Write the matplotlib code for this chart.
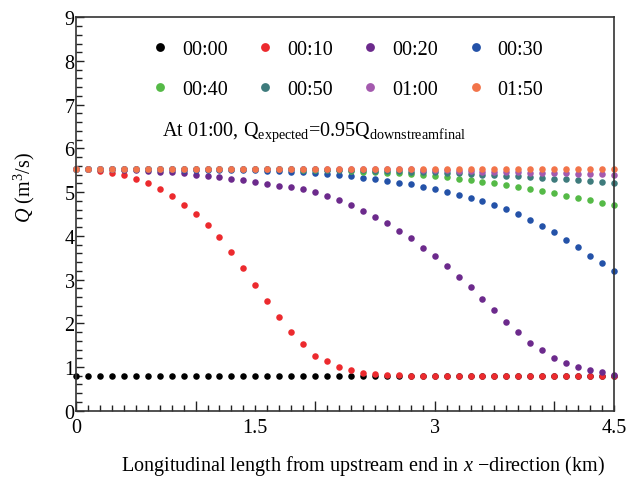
import matplotlib
matplotlib.use("Agg")
import matplotlib.pyplot as plt
from matplotlib.ticker import MultipleLocator, NullFormatter

plt.rcParams['font.family'] = ['Liberation Serif', 'DejaVu Serif']
plt.rcParams['mathtext.fontset'] = 'custom'
plt.rcParams['mathtext.rm'] = 'Liberation Serif'
plt.rcParams['mathtext.it'] = 'Liberation Serif:italic'

# ---- data ----
x_km = [0.0, 0.1, 0.2, 0.3, 0.4, 0.5, 0.6, 0.7, 0.8, 0.9,
        1.0, 1.1, 1.2, 1.3, 1.4, 1.5, 1.6, 1.7, 1.8, 1.9,
        2.0, 2.1, 2.2, 2.3, 2.4, 2.5, 2.6, 2.7, 2.8, 2.9,
        3.0, 3.1, 3.2, 3.3, 3.4, 3.5, 3.6, 3.7, 3.8, 3.9,
        4.0, 4.1, 4.2, 4.3, 4.4, 4.5]

q_0000 = [0.80] * 46

q_0010 = [5.54, 5.52, 5.48, 5.43, 5.39, 5.31, 5.22, 5.08, 4.92, 4.71,
          4.51, 4.24, 3.97, 3.62, 3.27, 2.88, 2.50, 2.15, 1.80, 1.53,
          1.26, 1.13, 0.99, 0.93, 0.87, 0.85, 0.82, 0.81, 0.80, 0.80,
          0.80, 0.80, 0.80, 0.80, 0.80, 0.80, 0.80, 0.80, 0.80, 0.80,
          0.80, 0.80, 0.80, 0.80, 0.80, 0.80]

q_0020 = [5.54, 5.54, 5.53, 5.52, 5.51, 5.50, 5.48, 5.47, 5.45, 5.43,
          5.40, 5.37, 5.34, 5.31, 5.27, 5.23, 5.19, 5.15, 5.12, 5.07,
          5.01, 4.92, 4.82, 4.70, 4.58, 4.43, 4.29, 4.11, 3.94, 3.73,
          3.53, 3.30, 3.07, 2.82, 2.56, 2.30, 2.03, 1.79, 1.55, 1.39,
          1.21, 1.10, 1.00, 0.94, 0.88, 0.82]

q_0030 = [5.54, 5.54, 5.54, 5.53, 5.53, 5.53, 5.52, 5.52, 5.52, 5.51,
          5.51, 5.51, 5.51, 5.51, 5.50, 5.50, 5.49, 5.48, 5.47, 5.45,
          5.44, 5.42, 5.39, 5.36, 5.33, 5.30, 5.26, 5.21, 5.18, 5.12,
          5.07, 5.00, 4.94, 4.86, 4.79, 4.70, 4.61, 4.49, 4.37, 4.22,
          4.08, 3.90, 3.74, 3.55, 3.37, 3.19]

q_0040 = [5.54, 5.54, 5.54, 5.54, 5.54, 5.54, 5.54, 5.54, 5.54, 5.54,
          5.54, 5.53, 5.53, 5.53, 5.53, 5.53, 5.53, 5.52, 5.52, 5.51,
          5.51, 5.50, 5.50, 5.49, 5.47, 5.46, 5.44, 5.43, 5.41, 5.39,
          5.37, 5.34, 5.31, 5.28, 5.24, 5.21, 5.17, 5.11, 5.07, 5.02,
          4.97, 4.92, 4.86, 4.81, 4.75, 4.70]

q_0050 = [5.54, 5.54, 5.54, 5.54, 5.54, 5.54, 5.54, 5.54, 5.54, 5.54,
          5.54, 5.54, 5.54, 5.54, 5.53, 5.53, 5.53, 5.53, 5.53, 5.52,
          5.52, 5.51, 5.51, 5.50, 5.50, 5.49, 5.48, 5.48, 5.47, 5.46,
          5.45, 5.44, 5.43, 5.42, 5.40, 5.39, 5.38, 5.37, 5.35, 5.33,
          5.31, 5.29, 5.28, 5.26, 5.24, 5.22]

q_0100 = [5.54, 5.54, 5.54, 5.54, 5.54, 5.54, 5.54, 5.54, 5.54, 5.54,
          5.54, 5.54, 5.54, 5.54, 5.54, 5.54, 5.54, 5.54, 5.54, 5.54,
          5.54, 5.54, 5.54, 5.54, 5.54, 5.54, 5.53, 5.52, 5.52, 5.51,
          5.50, 5.50, 5.49, 5.48, 5.47, 5.46, 5.46, 5.45, 5.44, 5.44,
          5.44, 5.43, 5.42, 5.42, 5.41, 5.40]

q_0150 = [5.54] * 46

series_labels = ['00:00', '00:10', '00:20', '00:30', '00:40', '00:50', '01:00', '01:50']
series_values = [q_0000, q_0010, q_0020, q_0030, q_0040, q_0050, q_0100, q_0150]
series_colors = ['#000000', '#EC2A2E', '#6C2A8C', '#2452A8', '#55BA47', '#3E7B7C', '#A45AAE', '#F2744A']

x_label_ticks = [0, 1.5, 3, 4.5]

# ---- figure ----
fig = plt.figure(figsize=(6.27, 4.85), dpi=100)
W, H = 627, 485
ax = fig.add_axes([76 / W, 1 - 411.7 / H, (614 - 76) / W, (411.7 - 18.3) / H])

handles = []
for lab, vals, col in zip(series_labels, series_values, series_colors):
    h, = ax.plot(x_km, vals, linestyle='none', marker='o', markersize=4.7,
                 markeredgewidth=0, color=col, label=lab, clip_on=False)
    handles.append(h)

ax.set_xlim(0, 4.5)
ax.set_ylim(0, 9)

# main x ticks: long at integers, short every 0.1; labels on secondary axis
ax.xaxis.set_major_locator(MultipleLocator(1))
ax.xaxis.set_major_formatter(NullFormatter())
ax.xaxis.set_minor_locator(MultipleLocator(0.1))
ax.yaxis.set_major_locator(MultipleLocator(1))
ax.yaxis.set_minor_locator(MultipleLocator(0.2))
ax.tick_params(which='both', direction='in', top=False, right=False, colors='#222222')
ax.tick_params(axis='x', which='major', length=7, width=1.0)
ax.tick_params(axis='x', which='minor', length=4, width=1.0)
ax.tick_params(axis='y', which='major', length=6, width=1.0, labelsize=14.5, pad=1)
ax.tick_params(axis='y', which='minor', length=4, width=1.0)
ax.tick_params(axis='y', labelcolor='black')

sec = ax.secondary_xaxis('bottom')
sec.set_xticks(x_label_ticks)
sec.set_xticklabels(['0', '1.5', '3', '4.5'])
sec.tick_params(length=0, labelsize=14.5, pad=5, labelcolor='black')
sec.spines['bottom'].set_visible(False)

for s in ax.spines.values():
    s.set_linewidth(1.2)
    s.set_color('#333333')

ax.set_ylabel('$Q$ (m$^{3}$/s)', fontsize=14.5)
ax.yaxis.set_label_coords(-0.072, 0.569)
fig.text(363 / W, 1 - 466 / H,
         'Longitudinal length from upstream end in $x$ \u2212direction (km)',
         ha='center', va='center', fontsize=14.5)

ax.text(0.16, 0.70, 'At 01:00, Q$_{\\mathrm{expected}}$=0.95Q$_{\\mathrm{downstreamfinal}}$',
        transform=ax.transAxes, fontsize=14.5, ha='left', va='baseline')

# row-wise legend ordering (matplotlib fills columns first)
order = [0, 4, 1, 5, 2, 6, 3, 7]
leg = ax.legend([handles[i] for i in order], [series_labels[i] for i in order],
                ncol=4, loc='upper left', bbox_to_anchor=(0.13, 0.962),
                frameon=False, fontsize=14.5, handlelength=0.6, handletextpad=0.8,
                columnspacing=1.55, labelspacing=1.0, markerscale=1.35,
                borderaxespad=0)

fig.savefig('out.png', dpi=100)
